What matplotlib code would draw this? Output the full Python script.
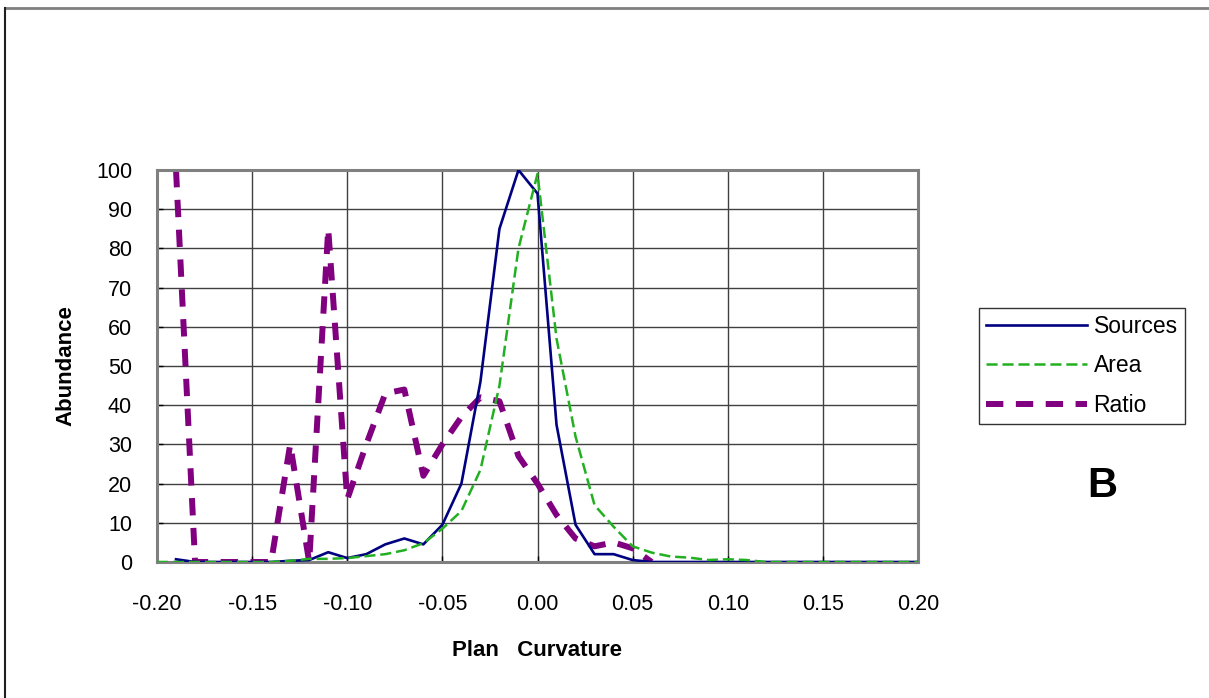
import matplotlib
matplotlib.use("Agg")
import matplotlib.pyplot as plt
import numpy as np
from matplotlib.lines import Line2D

plt.rcParams['font.family'] = ['Liberation Sans', 'DejaVu Sans']
plt.rcParams['lines.scale_dashes'] = False

nan = np.nan
curvature = [-0.20, -0.19, -0.18, -0.17, -0.16, -0.15, -0.14, -0.13, -0.12, -0.11,
             -0.10, -0.09, -0.08, -0.07, -0.06, -0.05, -0.04, -0.03, -0.02, -0.01,
             0.00, 0.01, 0.02, 0.03, 0.04, 0.05, 0.06, 0.07, 0.08, 0.09,
             0.10, 0.11, 0.12, 0.13, 0.14, 0.15, 0.16, 0.17, 0.18, 0.19, 0.20]

sources = [nan, 0.7, 0, 0, 0, 0, 0, 0.3, 0.5, 2.5,
           1, 2, 4.5, 6, 4.5, 9.5, 20, 46, 85, 100,
           94, 35, 9.5, 2, 2, 0.5, 0, 0, 0, 0,
           0, 0, 0, 0, 0, 0, 0, 0, 0, 0, 0]

area = [0, 0, 0, 0, 0, 0, 0, 0.3, 0.8, 0.8,
        1, 1.5, 2, 3, 4.8, 8.5, 13, 23.5, 45, 80,
        99, 57, 32, 14.5, 9, 4, 2.4, 1.4, 1.1, 0.5,
        0.7, 0.5, 0, 0, 0, 0, 0, 0, 0, 0, 0]

ratio = [nan, 100, 0, 0, 0, 0, 0, 30, 0, 85,
         16, 30, 43, 44, 22, 30, 37, 42, 41, 27,
         20, 12, 6, 4, 5, 3.5, 0, nan, nan, nan,
         nan, nan, nan, nan, nan, nan, nan, nan, nan, nan, nan]

xticks = [-0.20, -0.15, -0.10, -0.05, 0.00, 0.05, 0.10, 0.15, 0.20]
yticks = [0, 10, 20, 30, 40, 50, 60, 70, 80, 90, 100]

W, H = 1209, 698
fig = plt.figure(figsize=(W / 100, H / 100), dpi=100)
ax = fig.add_axes([157 / W, 1 - 562 / H, (918 - 157) / W, (562 - 170) / H])

ax.plot(curvature, sources, color='#000080', lw=1.9, label='Sources', zorder=3)
ax.plot(curvature, area, color='#22b022', lw=1.8, dashes=(8, 3.5), label='Area', zorder=4)
ax.plot(curvature, ratio, color='#800080', lw=4.3, dashes=(12.5, 9), label='Ratio', zorder=2)

ax.set_xlim(-0.20, 0.20)
ax.set_ylim(0, 100)
ax.set_xticks(xticks)
ax.set_yticks(yticks)
ax.set_xticklabels([f"{v:.2f}" for v in xticks])
ax.set_yticklabels([str(v) for v in yticks])
ax.grid(True, color='#404040', lw=1.0)
ax.set_axisbelow(True)
for s in ax.spines.values():
    s.set_color('#808080')
    s.set_linewidth(2.2)
ax.tick_params(axis='both', direction='in', length=4, width=1, color='black',
               labelsize=15.5)
ax.tick_params(axis='x', pad=23)
ax.tick_params(axis='y', pad=18)

ax.set_ylabel('Abundance', fontsize=16, fontweight='bold', labelpad=14)
ax.set_xlabel('Plan   Curvature', fontsize=16, fontweight='bold', labelpad=18)

leg = fig.legend(handles=ax.get_lines(), loc='upper left',
                 bbox_to_anchor=(979 / W, 1 - 308 / H), fontsize=16.5,
                 frameon=True, fancybox=False, handlelength=4.4,
                 borderpad=0.3, labelspacing=0.72, handletextpad=0.3,
                 borderaxespad=0)
leg.get_frame().set_edgecolor('black')
leg.get_frame().set_linewidth(1.0)

fig.text(1102 / W, 1 - 486 / H, 'B', fontsize=30, fontweight='bold',
         ha='center', va='center')

# outer border (top and left)
fig.add_artist(Line2D([5 / W, 1], [1 - 8 / H, 1 - 8 / H], color='#808080', lw=2,
                      transform=fig.transFigure))
fig.add_artist(Line2D([5 / W, 5 / W], [0, 1 - 8 / H], color='#202020', lw=1.5,
                      transform=fig.transFigure))

fig.savefig('out.png', dpi=100)
